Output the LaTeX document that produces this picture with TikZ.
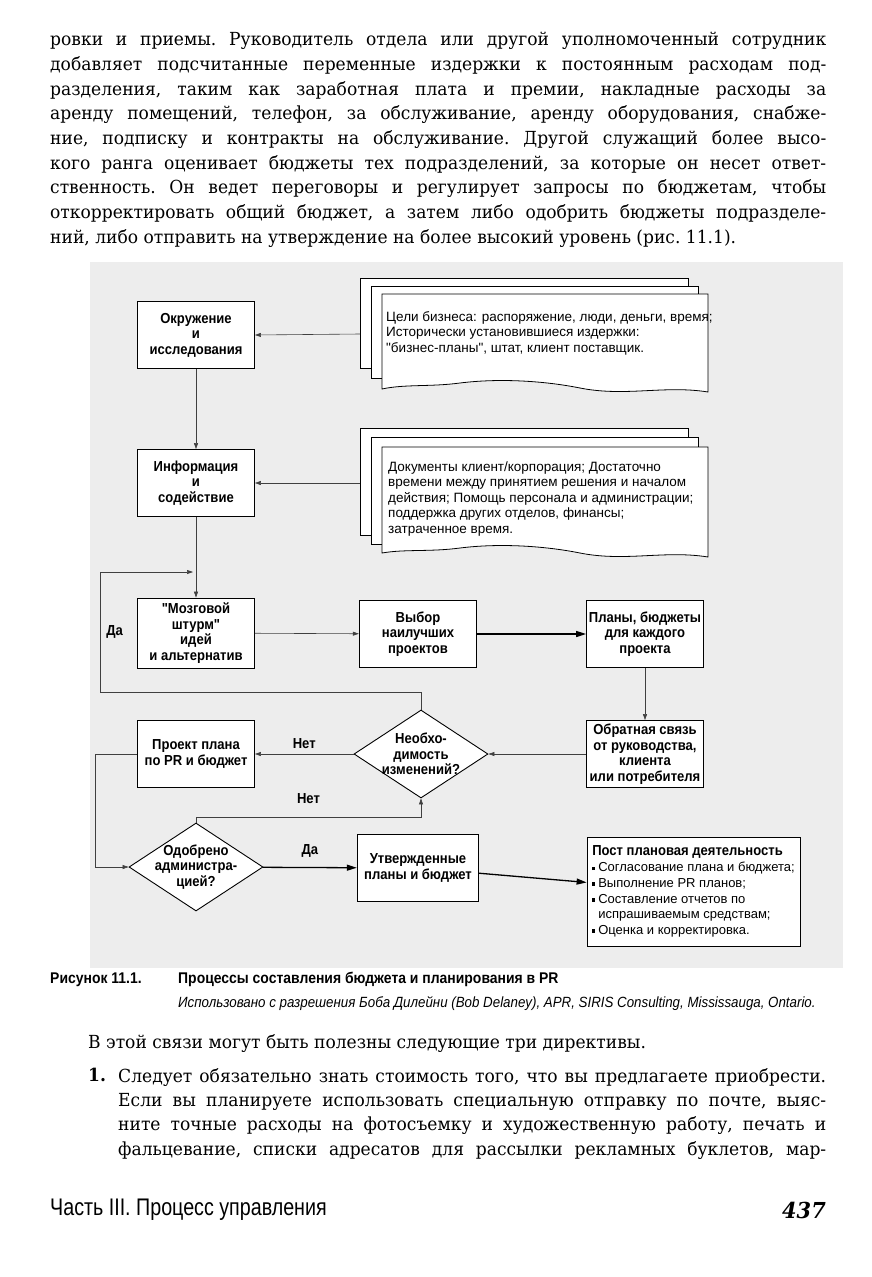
\documentclass[tikz,border=0pt]{standalone}
\usepackage{fontspec}
\setmainfont[FakeStretch=0.95]{DejaVu Serif}
\newfontfamily\condsans[FakeStretch=0.9]{Liberation Sans}
\newfontfamily\docsans{Liberation Sans}
\newfontfamily\footsans[FakeStretch=0.82]{Liberation Sans}
\usetikzlibrary{arrows.meta,positioning,shapes.geometric}
\newcommand{\pbul}{\rule[1.5pt]{3pt}{3.5pt}\hspace{3pt}}

\begin{document}
\begin{tikzpicture}[x=1pt, y=-1pt,
    box/.style={draw, fill=white, line width=0.8pt, minimum width=117pt, minimum height=67pt, align=center, inner sep=2pt, font=\condsans\bfseries\fontsize{14.5}{15.5}\selectfont},
    boldbox/.style={box, line width=1.4pt},
    dec/.style={diamond, draw, fill=white, line width=0.9pt, minimum width=134pt, minimum height=88pt, inner sep=0pt},
    dectext/.style={font=\condsans\bfseries\fontsize{14.5}{15.5}\selectfont, align=center, inner sep=0pt},
    lbl/.style={font=\condsans\bfseries\fontsize{14.5}{15.5}\selectfont, inner sep=0pt},
    doctext/.style={font=\docsans\fontsize{13.5}{15.5}\selectfont, align=left, inner sep=0pt},
    sheet/.style={draw, fill=white, line width=0.8pt},
    body/.style={font=\frenchspacing\fontsize{18}{24.7}\selectfont, inner sep=0pt},
    link/.style={->, line width=0.6pt, draw=black!75},
    boldlink/.style={-{Triangle[length=10pt,width=6pt]}, line width=1.3pt},
    >={Triangle[length=6pt,width=4pt]}]

    \useasboundingbox (0,0) rectangle (872,1277);
    \fill[white] (0,0) rectangle (872,1277);

    % text above the figure
    \node[body, anchor=north west, text width=776pt, align=justify] (toptext) at (50,32) {\hyphenpenalty=10000
        ровки и приемы. Руководитель отдела или другой уполномоченный сотрудник\linebreak
        добавляет подсчитанные переменные издержки к постоянным расходам под-\linebreak
        разделения, таким как заработная плата и премии, накладные расходы за\linebreak
        аренду помещений, телефон, за обслуживание, аренду оборудования, снабже-\linebreak
        ние, подписку и контракты на обслуживание. Другой служащий более высо-\linebreak
        кого ранга оценивает бюджеты тех подразделений, за которые он несет ответ-\linebreak
        ственность. Он ведет переговоры и регулирует запросы по бюджетам, чтобы\linebreak
        откорректировать общий бюджет, а затем либо одобрить бюджеты подразделе-\linebreak
        ний, либо отправить на утверждение на более высокий уровень (рис.~11.1).};

    % figure
    \fill[black!7] (90,262) rectangle (843,968);

    % documents (1)
    \draw[sheet] (360,278) rectangle (688,368);
    \draw[sheet] (371,286) rectangle (698,378);
    \draw[sheet] (382,294) -- (708,294) -- (708,392) .. controls (665,385) and (625,397) .. (580,388)
        .. controls (545,381) and (500,378) .. (460,383) .. controls (430,387) and (405,384) .. (382,389) -- cycle;
    \node[doctext, anchor=west] (goals) at (386,333) {Цели бизнеса: распоряжение, люди, деньги, время;\\Исторически установившиеся издержки:\\"бизнес-планы", штат, клиент поставщик.};
    \coordinate (goalsin) at (360,334);

    % documents (2)
    \draw[sheet] (360,428) rectangle (688,535);
    \draw[sheet] (371,437) rectangle (698,544);
    \draw[sheet] (382,447) -- (708,447) -- (708,557) .. controls (665,550) and (625,562) .. (580,553)
        .. controls (545,546) and (500,543) .. (460,548) .. controls (430,552) and (405,549) .. (382,553) -- cycle;
    \node[doctext, anchor=west] (docs) at (388,499) {Документы клиент/корпорация; Достаточно\\времени между принятием решения и началом\\действия; Помощь персонала и администрации;\\поддержка других отделов, финансы;\\затраченное время.};
    \coordinate (docsin) at (360,483);

    \node[box] (env) at (196,335) {Окружение\\и\\исследования};
    \node[box] (info) at (196,483) {Информация\\и\\содействие};
    \node[box, minimum height=70pt] (brain) at (196,633) {"Мозговой\\штурм"\\идей\\и альтернатив};
    \node[boldbox] (best) at (418,634) {Выбор\\наилучших\\проектов};
    \node[box] (plans) at (645,634) {Планы, бюджеты\\для каждого\\проекта};
    \node[box] (feed) at (645,754) {Обратная связь\\от руководства,\\клиента\\или потребителя};
    \node[dec, label={[dectext]center:{Необхо-\\димость\\изменений?}}] (need) at (421,754) {};
    \node[box] (draft) at (196,754) {Проект плана\\по PR и бюджет};
    \node[dec, label={[dectext]center:{Одобрено\\администра-\\цией?}}] (adm) at (196,867) {};
    \node[boldbox, minimum width=121pt] (appr) at (418,868) {Утвержденные\\планы и бюджет};
    \node[box, minimum width=213pt, minimum height=109pt, align=left, font=\docsans\fontsize{13}{15.7}\selectfont] (post) at (693.5,891.5)
        {{\condsans\bfseries\fontsize{14.5}{15.7}\selectfont Пост плановая деятельность}\\
         \pbul Согласование плана и бюджета;\\
         \pbul Выполнение PR планов;\\
         \pbul Составление отчетов по\\
         \phantom{\pbul}испрашиваемым средствам;\\
         \pbul Оценка и корректировка.};

    \coordinate (yesL) at (100,692);
    \coordinate (join) at (193,572);
    \coordinate (nojoin) at (421,817);

    \draw[link] (goalsin) -- (env.east);
    \draw[link] (env) -- (info);
    \draw[link] (docsin) -- (info.east);
    \draw[link] (info) -- (brain);
    \draw[link] (brain) -- (best);
    \draw[boldlink] (best) -- (plans);
    \draw[link] (plans) -- (feed);
    \draw[link] (feed) -- (need);
    \draw[link] (need) -- node[lbl, above=5pt]{Нет} (draft);
    \draw[link] (need.north) |- (yesL) |- node[lbl, pos=0.25, right=6pt]{Да} (join);
    \draw[link] (draft.west) -- ++(-42,0) |- (adm.west);
    \draw[link] (adm.north) |- node[lbl, pos=0.75, above=13pt]{Нет} (nojoin) -- (need.south);
    \draw[boldlink] (adm) -- node[lbl, above=9pt]{Да} (appr);
    \draw[boldlink] (appr) -- (post);

    % caption
    \node[anchor=base west, font=\condsans\bfseries\fontsize{15.5}{17}\selectfont, inner sep=0pt] (fignum) at (50,983) {Рисунок 11.1.};
    \node[anchor=base west, font=\condsans\bfseries\fontsize{15.5}{17}\selectfont, inner sep=0pt] (figtitle) at (178,983) {Процессы составления бюджета и планирования в PR};
    \node[anchor=base west, font=\condsans\itshape\fontsize{14.8}{16}\selectfont, inner sep=0pt] (figcredit) at (178,1007) {Использовано с разрешения Боба Дилейни (Bob Delaney), APR, SIRIS Consulting, Mississauga, Ontario.};

    % text below the figure
    \node[body, anchor=west] (lead) at (88,1043) {В этой связи могут быть полезны следующие три директивы.};
    \node[body, anchor=north west, font=\bfseries\fontsize{18}{24.3}\selectfont] (num) at (88,1068) {1.};
    \node[body, anchor=north west, text width=708pt, align=justify, font=\frenchspacing\fontsize{18}{24.3}\selectfont] (rule1) at (118,1068) {\hyphenpenalty=10000
        Следует обязательно знать стоимость того, что вы предлагаете приобрести.\linebreak
        Если вы планируете использовать специальную отправку по почте, выяс-\linebreak
        ните точные расходы на фотосъемку и художественную работу, печать и\linebreak
        фальцевание, списки адресатов для рассылки рекламных буклетов, мар-\linebreak};

    % footer
    \node[anchor=west, font=\footsans\fontsize{24}{26}\selectfont, inner sep=0pt] (part) at (50,1210) {Часть III. Процесс управления};
    \node[anchor=east, font=\bfseries\itshape\fontsize{22}{24}\selectfont, inner sep=0pt] (page) at (826,1210) {437};
\end{tikzpicture}
\end{document}
